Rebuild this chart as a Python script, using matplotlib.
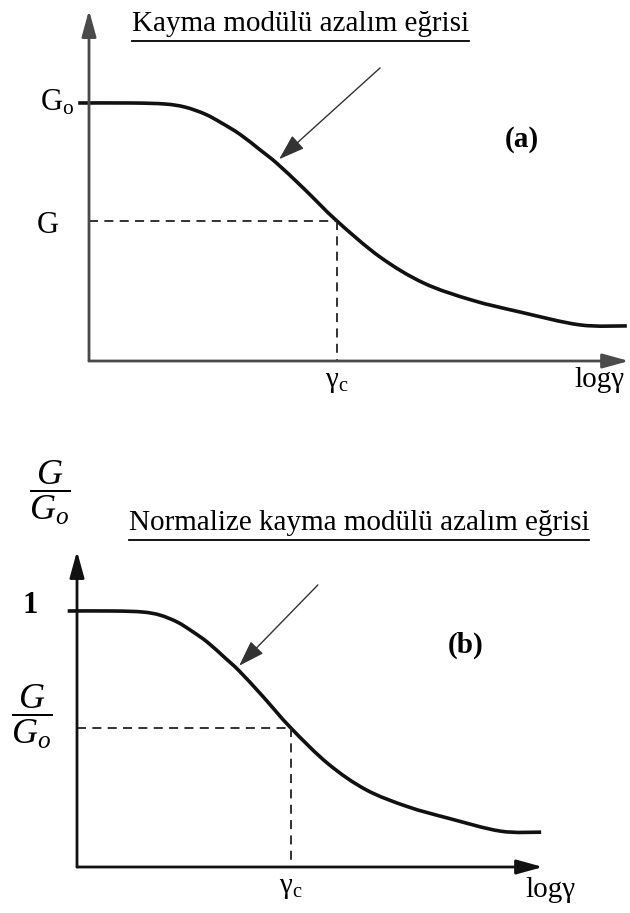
import matplotlib
matplotlib.use("Agg")
import numpy as np
import matplotlib.pyplot as plt
from matplotlib.lines import Line2D
from matplotlib.path import Path
from matplotlib.patches import PathPatch

plt.rcParams['font.family'] = ['Liberation Serif', 'DejaVu Serif']
plt.rcParams['mathtext.fontset'] = 'custom'
plt.rcParams['mathtext.rm'] = 'Liberation Serif'
plt.rcParams['mathtext.it'] = 'Liberation Serif:italic'
plt.rcParams['mathtext.bf'] = 'Liberation Serif:bold'

# normalised decay curve: x = log(gamma) along the axis, y = G / Go
log_gamma = [-0.02, 0.08, 0.141, 0.178, 0.215, 0.246, 0.280, 0.317, 0.348,
             0.398, 0.459, 0.539, 0.620, 0.709, 0.798, 0.909, 0.996]
g_ratio = [1.0, 1.0, 0.996, 0.984, 0.957, 0.922, 0.878, 0.818, 0.766,
           0.668, 0.543, 0.403, 0.302, 0.236, 0.190, 0.140, 0.136]
gamma_c = 0.459
ratio_c = 0.543

title_a = "Kayma modülü azalım eğrisi"
title_b = "Normalize kayma modülü azalım eğrisi"

W, H = 630, 913
fig = plt.figure(figsize=(W / 100, H / 100), dpi=100)


def px_axes(x0, x1, y_axis, y_top):
    # axes whose unit square runs from the origin to the end of the x arrow / Go level
    ax = fig.add_axes([x0 / W, (H - y_axis) / H, (x1 - x0) / W, (y_axis - y_top) / H])
    ax.set_xlim(0, 1)
    ax.set_ylim(0, 1)
    ax.axis('off')
    return ax


def smooth_path(xs, ys):
    # catmull-rom through the points, written as cubic bezier segments
    p = np.column_stack([xs, ys])
    p = np.vstack([p[0], p, p[-1]])
    verts = [p[1]]
    codes = [Path.MOVETO]
    for i in range(1, len(p) - 2):
        c1 = p[i] + (p[i + 1] - p[i - 1]) / 6
        c2 = p[i + 1] - (p[i + 2] - p[i]) / 6
        verts += [c1, c2, p[i + 1]]
        codes += [Path.CURVE4] * 3
    return Path(verts, codes)


def draw_panel(ax, axis_color, ytip, arrow_from, arrow_to):
    head = dict(arrowstyle='-|>,head_length=0.8,head_width=0.22', mutation_scale=20,
                color=axis_color, lw=2.0, shrinkA=0, shrinkB=0)
    ax.annotate('', xy=(1.0, 0), xytext=(0, 0), arrowprops=head, annotation_clip=False)
    ax.annotate('', xy=(0, ytip), xytext=(0, 0), arrowprops=head, annotation_clip=False)
    ax.add_patch(PathPatch(smooth_path(log_gamma, g_ratio), fill=False,
                           edgecolor='#111111', lw=2.6, clip_on=False, capstyle='butt'))
    ax.plot([0, gamma_c], [ratio_c, ratio_c], color='#222222', lw=1.3,
            dashes=(5, 3.5), clip_on=False)
    ax.plot([gamma_c, gamma_c], [ratio_c, 0], color='#222222', lw=1.3,
            dashes=(5, 3.5), clip_on=False)
    ax.annotate('', xy=arrow_to, xytext=arrow_from, annotation_clip=False,
                arrowprops=dict(arrowstyle='-|>,head_length=0.9,head_width=0.3',
                                mutation_scale=18, color='#333333', lw=1.0,
                                shrinkA=0, shrinkB=0))


def underline(t, offset=4):
    fig.canvas.draw()
    bb = t.get_window_extent()
    y = (bb.y0 - offset) / H
    fig.add_artist(Line2D([bb.x0 / W, bb.x1 / W], [y, y], color='black', lw=1.3))


# (a) shear modulus decay
ax_a = px_axes(89, 629, 361, 103)
draw_panel(ax_a, '#4a4a4a', 1.36, (0.539, 1.136), (0.352, 0.782))
ta = ax_a.text(0.392, 1.306, title_a, fontsize=21, ha='center', va='center')
ax_a.text(-0.028, 1.0, r'$\mathregular{G_o}$', fontsize=22, ha='right', va='center')
ax_a.text(-0.076, 0.527, 'G', fontsize=22, ha='center', va='center')
ax_a.text(0.802, 0.857, '(a)', fontsize=21, fontweight='bold', ha='center', va='center')
ax_a.text(gamma_c, -0.081, r'$\mathregular{γ_c}$', fontsize=21, ha='center', va='center')
ax_a.text(0.946, -0.074, 'logγ', fontsize=21, ha='center', va='center')

# (b) normalised shear modulus decay
ax_b = px_axes(77, 543, 867, 611)
draw_panel(ax_b, '#111111', 1.234, (0.517, 1.102), (0.348, 0.786))
tb = ax_b.text(0.605, 1.344, title_b, fontsize=21, ha='center', va='center')
ax_b.text(-0.058, 1.461, r'$\dfrac{G}{G_o}$', fontsize=26, ha='center', va='center')
ax_b.text(-0.101, 1.023, '1', fontsize=22, fontweight='bold', ha='center', va='center')
ax_b.text(-0.097, 0.586, r'$\dfrac{G}{G_o}$', fontsize=26, ha='center', va='center')
ax_b.text(0.833, 0.867, '(b)', fontsize=21, fontweight='bold', ha='center', va='center')
ax_b.text(gamma_c, -0.082, r'$\mathregular{γ_c}$', fontsize=21, ha='center', va='center')
ax_b.text(1.015, -0.090, 'logγ', fontsize=21, ha='center', va='center')

underline(ta)
underline(tb)

fig.savefig('out.png', dpi=100)
